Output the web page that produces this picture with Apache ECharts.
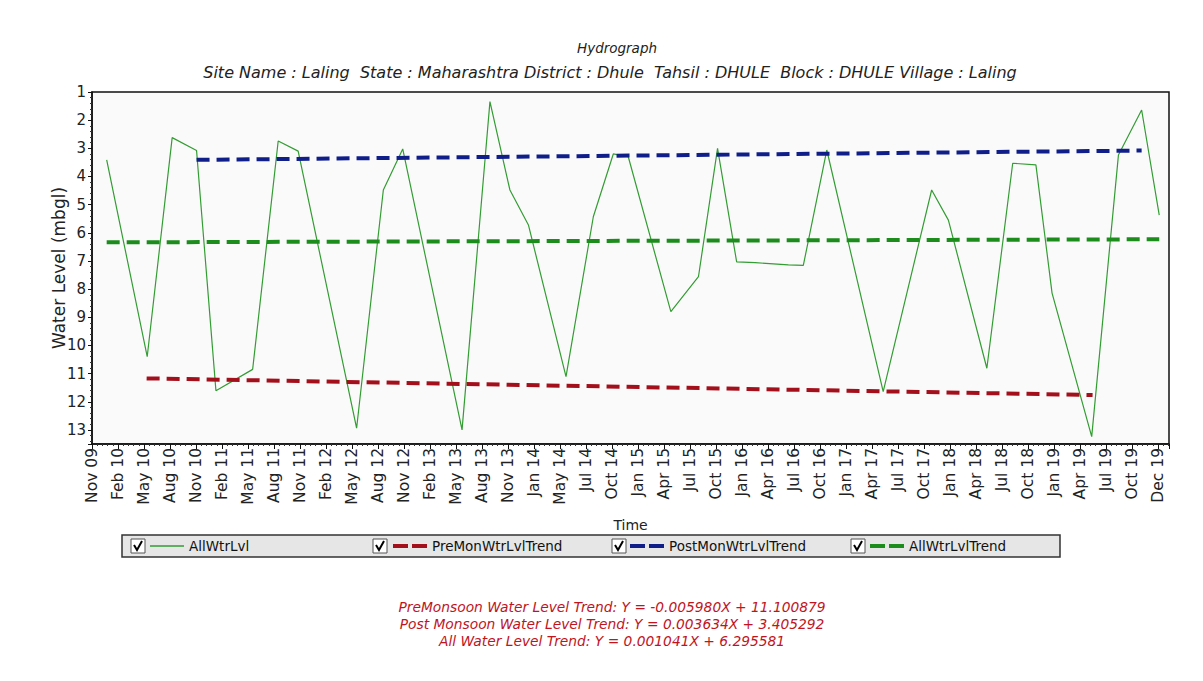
<!DOCTYPE html>
<html><head><meta charset="utf-8">
<script src="https://cdn.jsdelivr.net/npm/echarts@6/dist/echarts.min.js"></script>
<style>html,body{margin:0;padding:0;background:#fff}#c{width:1203px;height:681px}</style>
</head><body><div id="c"></div>
<script>
// ---- data ----
const xTickLabels = ['Nov 09','Feb 10','May 10','Aug 10','Nov 10','Feb 11','May 11','Aug 11','Nov 11','Feb 12','May 12','Aug 12','Nov 12','Feb 13','May 13','Aug 13','Nov 13','Jan 14','May 14','Jul 14','Oct 14','Jan 15','Apr 15','Jul 15','Oct 15','Jan 16','Apr 16','Jul 16','Oct 16','Jan 17','Apr 17','Jul 17','Oct 17','Jan 18','Apr 18','Jul 18','Oct 18','Jan 19','Apr 19','Jul 19','Oct 19','Dec 19'];
const axisStartDate = '2009-11-01';
const axisEndDate = '2019-12-01';
const obsDates = ['2009-12-21','2010-05-09','2010-08-04','2010-10-27','2011-01-03','2011-05-08','2011-08-05','2011-10-13','2012-05-02','2012-08-03','2012-10-09','2013-05-01','2013-08-06','2013-10-14','2013-12-17','2014-04-25','2014-07-28','2014-10-06','2014-11-27','2015-04-22','2015-07-26','2015-10-01','2015-12-06','2016-02-09','2016-06-02','2016-07-23','2016-10-13','2017-04-25','2017-10-10','2017-12-07','2018-04-18','2018-07-16','2018-10-05','2018-11-30','2019-04-15','2019-07-16','2019-10-05','2019-12-05'];
const obsLevels = [3.41,10.40,2.62,3.08,11.61,10.85,2.74,3.10,12.94,4.48,3.02,13.00,1.34,4.48,5.72,11.11,5.43,3.20,3.30,8.80,7.56,3.00,7.03,7.06,7.14,7.16,3.06,11.64,4.48,5.55,10.81,3.53,3.59,8.14,13.24,3.24,1.64,5.37];
const preMonDates = ['2010-05-07','2019-04-18'];
const preMonLevels = [11.17, 11.76];
const postMonDates = ['2010-10-27','2019-10-05'];
const postMonLevels = [3.41, 3.08];
const allTrendDates = ['2009-12-21','2019-12-05'];
const allTrendLevels = [6.34, 6.23];
const seriesNames = ['AllWtrLvl','PreMonWtrLvlTrend','PostMonWtrLvlTrend','AllWtrLvlTrend'];
const titleText = 'Hydrograph';
const subTitleText = 'Site Name : Laling  State : Maharashtra District : Dhule  Tahsil : DHULE  Block : DHULE Village : Laling';
const equations = [
  'PreMonsoon Water Level Trend: Y = -0.005980X + 11.100879',
  'Post Monsoon Water Level Trend: Y = 0.003634X + 3.405292',
  'All Water Level Trend: Y = 0.001041X + 6.295581'
];

// ---- scale helpers ----
function monthsOf(d){const p=d.split('-').map(Number);return p[0]*12+(p[1]-1)+(p[2]-1)/30;}
const totalMonths = monthsOf(axisEndDate)-monthsOf(axisStartDate);
function toTick(d){return (monthsOf(d)-monthsOf(axisStartDate))/totalMonths*(xTickLabels.length-1);}
function pairs(ds,vs){return ds.map((d,i)=>[toTick(d),vs[i]]);}

const FONT = 'DejaVu Sans';
const colors = {obs:'#339c33', pre:'#a3101c', post:'#101e8a', all:'#1c8c1c'};
const dashIcon = 'path://M0,0h15v4h-15z M19,0h15v4h-15z';
const lineIcon = 'path://M0,0h34v1.5h-34z';

const legendLefts = [150, 393, 630, 870];
const boxLefts = [131, 373, 612, 851];

const chart = echarts.init(document.getElementById('c'), null, {renderer:'svg'});
const graphics = [
  {type:'rect', shape:{x:122,y:535,width:938,height:22}, style:{fill:'#e6e6e6', stroke:'#333', lineWidth:1.5}, z:0},
  {type:'text', x:617, y:48, style:{text:titleText, align:'center', verticalAlign:'middle', font:'italic 13.5px "DejaVu Sans"', fill:'#222'}},
  {type:'text', x:610, y:72, style:{text:subTitleText, align:'center', verticalAlign:'middle', font:'italic 16px "DejaVu Sans"', fill:'#222'}}
];
boxLefts.forEach(x=>{
  graphics.push({type:'rect', shape:{x:x,y:539,width:14,height:14}, style:{fill:'#fff', stroke:'#555', lineWidth:1}, z:1});
  graphics.push({type:'polyline', shape:{points:[[x+3,545],[x+6,550],[x+11,541]]}, style:{stroke:'#000', lineWidth:2, fill:null}, z:2});
});
equations.forEach((t,i)=>{
  graphics.push({type:'text', x:612, y:607+i*17, style:{text:t, align:'center', verticalAlign:'middle', font:'italic 13.8px "DejaVu Sans"', fill:'#c0141e'}});
});

chart.setOption({
  animation:false,
  backgroundColor:'#ffffff',
  grid:{left:92, right:34, top:92, bottom:237, show:true, borderColor:'#111', borderWidth:1.5, backgroundColor:'#fafafa'},
  xAxis:{
    type:'value', min:0, max:41.42, interval:1,
    name:'Time', nameLocation:'middle', nameGap:74, nameMoveOverlap:false,
    nameTextStyle:{fontFamily:FONT, fontSize:14, color:'#222'},
    axisLine:{show:true, lineStyle:{color:'#111', width:1.5}},
    axisTick:{show:true, length:5, lineStyle:{color:'#111'}},
    minorTick:{show:true, splitNumber:5, length:2, lineStyle:{color:'#333'}},
    splitLine:{show:false},
    axisLabel:{rotate:90, fontFamily:FONT, fontSize:15.5, color:'#222', margin:4, showMaxLabel:false,
      formatter:v=>{const i=Math.round(v);return Math.abs(v-i)<1e-6 && xTickLabels[i]!==undefined ? xTickLabels[i] : '';}}
  },
  yAxis:{
    type:'value', inverse:true, min:1, max:13.5, interval:1,
    name:'Water Level (mbgl)', nameLocation:'middle', nameGap:25, nameMoveOverlap:false,
    nameTextStyle:{fontFamily:FONT, fontSize:17, color:'#222'},
    axisLine:{show:true, lineStyle:{color:'#111', width:1.5}},
    axisTick:{show:true, length:4, lineStyle:{color:'#111'}},
    minorTick:{show:true, splitNumber:5, length:2, lineStyle:{color:'#333'}},
    splitLine:{show:false},
    axisLabel:{fontFamily:FONT, fontSize:15, color:'#222', margin:6, showMaxLabel:false}
  },
  legend: seriesNames.map((n,i)=>({
    left:legendLefts[i], top:539, padding:0, selectedMode:false,
    itemWidth:34, itemHeight: i===0 ? 1.5 : 4,
    data:[{name:n, icon: i===0 ? lineIcon : dashIcon}],
    itemStyle:{borderWidth:0},
    textStyle:{fontFamily:FONT, fontSize:13.5, color:'#111'}
  })),
  graphic: graphics,
  series:[
    {name:seriesNames[0], type:'line', data:pairs(obsDates,obsLevels), symbol:'none', color:colors.obs, lineStyle:{color:colors.obs, width:1.2}, z:2},
    {name:seriesNames[1], type:'line', data:pairs(preMonDates,preMonLevels), symbol:'none', color:colors.pre, lineStyle:{color:colors.pre, width:4, type:[13,7]}, z:3},
    {name:seriesNames[2], type:'line', data:pairs(postMonDates,postMonLevels), symbol:'none', color:colors.post, lineStyle:{color:colors.post, width:4, type:[13,7]}, z:3},
    {name:seriesNames[3], type:'line', data:pairs(allTrendDates,allTrendLevels), symbol:'none', color:colors.all, lineStyle:{color:colors.all, width:4, type:[13,7]}, z:3}
  ]
});
</script></body></html>
